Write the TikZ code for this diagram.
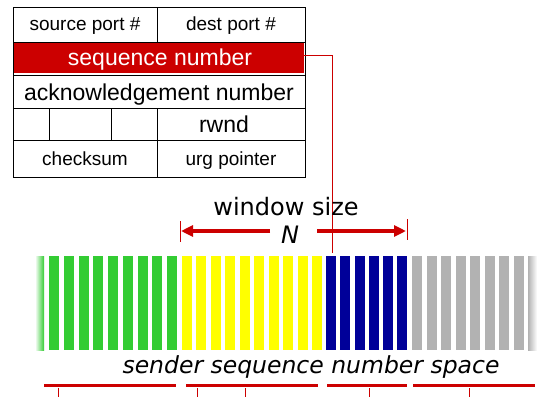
\documentclass[tikz,border=0pt]{standalone}
\usepackage{fontspec}
\setmainfont{Liberation Sans}
\newfontfamily\verd{DejaVu Sans}
\usepackage{tikz}
\usetikzlibrary{arrows.meta,calc,positioning}
\definecolor{rojo}{HTML}{CC0000}
\definecolor{verde}{HTML}{33CC33}
\definecolor{amarillo}{HTML}{FFFF00}
\definecolor{azul}{HTML}{000099}
\definecolor{gris}{HTML}{B2B2B2}
\tikzset{
  campo/.style={inner sep=0pt,anchor=base,font=\fontsize{19}{19}\selectfont},
  campog/.style={inner sep=0pt,anchor=base,font=\fontsize{23}{23}\selectfont},
  rotulo/.style={inner sep=0pt,anchor=base,font=\verd\fontsize{24}{24}\selectfont},
  rotuloit/.style={inner sep=0pt,anchor=base,font=\verd\itshape\fontsize{23.5}{24}\selectfont},
  flecha/.style={-{Triangle[length=12pt,width=11pt]},rojo,line width=4pt},
  marca/.style={rojo,line width=1pt},
  tramo/.style={rojo,line width=3pt}
}

\begin{document}
\begin{tikzpicture}[x=1pt,y=-1pt]
\useasboundingbox (0,0) rectangle (553,397);
\draw[line width=1pt] (13,7) rectangle (305,177);
\draw[line width=1pt] (13,42) -- (305,42) (13,75) -- (305,75) (13,108) -- (305,108) (13,140) -- (305,140);
\draw[line width=1pt] (157,7) -- (157,42) (157,108) -- (157,177) (49,108) -- (49,140) (111,108) -- (111,140);
\node[fill=rojo,inner sep=0pt,minimum width=290,minimum height=30,anchor=north west] (seqbox) at (14,43) {};
\node[campo] (origen) at (85,30) {source port \#};
\node[campo] (destino) at (231,30) {dest port \#};
\node[campog,text=white] (secuencia) at (160,65) {sequence number};
\node[campog] (ack) at (159,100) {acknowledgement number};
\node[campog] (rwnd) at (224,132) {rwnd};
\node[campo] (suma) at (85,165) {checksum};
\node[campo] (urg) at (231,165) {urg pointer};
\shade[left color=white,right color=verde] (35,256) rectangle (44,350);
\foreach \i in {0,...,8} \fill[verde] ({49+14.75*\i},256) rectangle ++(10,94);
\foreach \i in {0,...,9} \fill[amarillo] ({182+14.44*\i},256) rectangle ++(10,94);
\foreach \i in {0,...,5} \fill[azul] ({326+14.25*\i},256) rectangle ++(10,94);
\foreach \i in {0,...,7} \fill[gris] ({412+14.57*\i},256) rectangle ++(10,94);
\shade[left color=gris,right color=white] (528,256) rectangle (537,350);
\coordinate (tope) at (332,253);
\draw[marca] ($(seqbox.north east)!0.4!(seqbox.south east)$) -| (tope);
\node[rotulo] (ventana) at (286,215) {window size};
\node[rotuloit,font=\verd\itshape\fontsize{24}{24}\selectfont] (N) at (290,243) {N};
\coordinate (izq) at (181,231);
\coordinate (der) at (406,231);
\draw[flecha] (270,231) -- (izq);
\draw[flecha] (317,231) -- (der);
\draw[marca] (180,221) -- (180,242) (407,219) -- (407,240);
\node[rotuloit] (espacio) at (311,373) {sender sequence number space};
\draw[tramo] (44,385) -- (176,385) (186,385) -- (318,385) (327,385) -- (407,385) (413,385) -- (535,385);
\draw[marca] (58,388) -- (58,397) (197,388) -- (197,397) (245,388) -- (245,397) (369,388) -- (369,397) (469,388) -- (469,397);
\end{tikzpicture}
\end{document}
